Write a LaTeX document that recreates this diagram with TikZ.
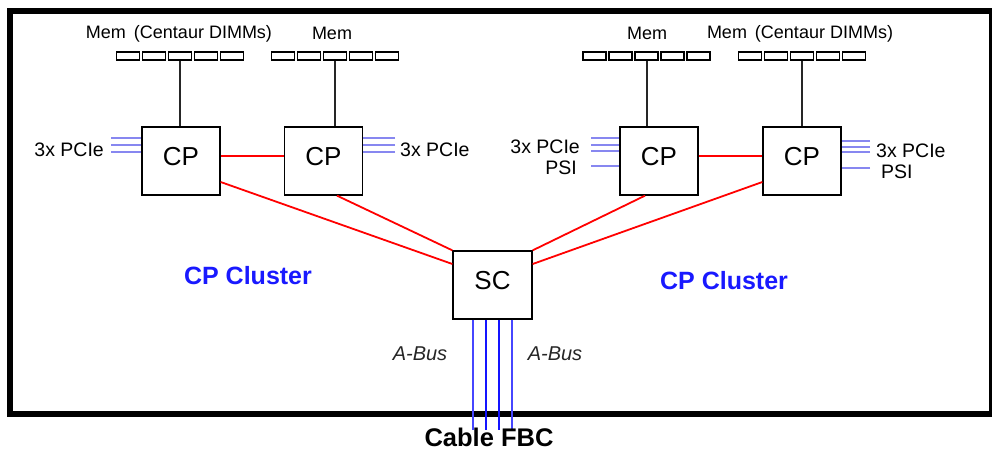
\documentclass[tikz,border=0pt]{standalone}
\usepackage{fontspec}
\setmainfont{Liberation Sans}
\begin{document}
\begin{tikzpicture}[x=1pt,y=-1pt,
  memmod/.style={draw,line width=1.2pt,minimum width=23pt,minimum height=8pt,inner sep=0pt},
  chip/.style={draw,line width=1.3pt,minimum width=78pt,minimum height=68pt,inner sep=0pt,font=\fontsize{26}{26}\selectfont,text depth=10pt},
  memline/.style={line width=2pt,black!85},
  redlink/.style={line width=1.8pt,red},
  pcie/.style={line width=2.5pt,color={rgb,255:red,135;green,135;blue,240}},
  abus/.style={line width=2.4pt,color={rgb,255:red,20;green,20;blue,255}},
  abusout/.style={line width=2.4pt,color={rgb,255:red,70;green,70;blue,255}},
  lab/.style={inner sep=0pt,font=\fontsize{19.5}{20}\selectfont},
  memlab/.style={inner sep=0pt,font=\fontsize{18}{18}\selectfont},
  cluster/.style={inner sep=0pt,font=\fontsize{25}{25}\selectfont\bfseries,color={rgb,255:red,25;green,25;blue,255}},
  buslab/.style={inner sep=0pt,font=\fontsize{20}{20}\selectfont\itshape,black!85}
]
\useasboundingbox (0,0) rectangle (992,450);
\clip (0,0) rectangle (992,450);
\fill[white] (0,0) rectangle (992,450);
% outer frame
\draw[line width=6pt] (9.5,10.5) rectangle (992,413.5);

% memory modules
\foreach \g/\cx in {1/180,2/335,3/646.5,4/802}{
  \foreach \i in {1,...,5}{
    \node[memmod] (m\g\i) at ({\cx+(\i-3)*26},56) {};
  }
}
% memory labels
\node[memlab] (ml1) at (179,34) {Mem\hspace{8pt}(Centaur DIMMs)};
\node[memlab] (ml2) at (332,33) {Mem};
\node[memlab] (ml3) at (647,33) {Mem};
\node[memlab] (ml4) at (800,34) {Mem\hspace{8pt}(Centaur DIMMs)};

% chips
\node[chip] (cp1) at (181,161) {CP};
\node[chip] (cp2) at (323.5,161) {CP};
\node[chip] (cp3) at (659,161) {CP};
\node[chip] (cp4) at (802,161) {CP};
\node[chip,minimum width=79pt] (sc) at (492.5,285) {SC};

% memory connections
\draw[memline] (m13.south) -- (m13.south |- cp1.north);
\draw[memline] (m23.south) -- (m23.south |- cp2.north);
\draw[memline] (m33.south) -- (m33.south |- cp3.north);
\draw[memline] (m43.south) -- (m43.south |- cp4.north);

% red links
\draw[redlink] ([yshift=5pt]cp1.east) -- ([yshift=5pt]cp2.west);
\draw[redlink] ([yshift=5pt]cp3.east) -- ([yshift=5pt]cp4.west);
\draw[redlink] ([yshift=-21pt]cp1.east) -- ([yshift=21pt]sc.west);
\draw[redlink] ([xshift=13.5pt]cp2.south) -- (sc.north west);
\draw[redlink] ([xshift=-14pt]cp3.south) -- (sc.north east);
\draw[redlink] ([yshift=-21pt]cp4.west) -- ([yshift=21pt]sc.east);

% PCIe / PSI lines
\foreach \n/\y in {a/138,b/145,c/152}{
  \coordinate (p1\n) at (111,\y);
  \draw[pcie] (p1\n) -- (p1\n -| cp1.west);
  \coordinate (p2\n) at (395,\y);
  \draw[pcie] (p2\n) -- (p2\n -| cp2.east);
}
\foreach \n/\y in {a/138,b/145,c/151,d/166}{
  \coordinate (p3\n) at (591,\y);
  \draw[pcie] (p3\n) -- (p3\n -| cp3.west);
}
\foreach \n/\y in {a/141,b/147,c/152,d/168}{
  \coordinate (p4\n) at (870,\y);
  \draw[pcie] (p4\n) -- (p4\n -| cp4.east);
}
\node[lab,anchor=east] (l1) at (104,150) {3x PCIe};
\node[lab,anchor=west] (l2) at (400,150) {3x PCIe};
\node[lab,anchor=east] (l3) at (580,147) {3x PCIe};
\node[lab,anchor=east] (l3b) at (577,168) {PSI};
\node[lab,anchor=west] (l4) at (876,151) {3x PCIe};
\node[lab,anchor=west] (l4b) at (881,172) {PSI};

% clusters
\node[cluster] (cl1) at (248,276) {CP Cluster};
\node[cluster] (cl2) at (724,281) {CP Cluster};

% A-Bus
\coordinate (b1) at (473,430);
\coordinate (b2) at (486,430);
\coordinate (b3) at (499,430);
\coordinate (b4) at (512,430);
\draw[abusout] (b1 |- sc.south) -- (b1);
\draw[abus] (b2 |- sc.south) -- (b2);
\draw[abus] (b3 |- sc.south) -- (b3);
\draw[abusout] (b4 |- sc.south) -- (b4);
\node[buslab] (bl1) at (420,354) {A-Bus};
\node[buslab] (bl2) at (555,354) {A-Bus};

\node[inner sep=0pt,text depth=0pt,anchor=base,font=\fontsize{25.5}{26}\selectfont\bfseries] (fbc) at (489,446) {Cable FBC};
\end{tikzpicture}
\end{document}
